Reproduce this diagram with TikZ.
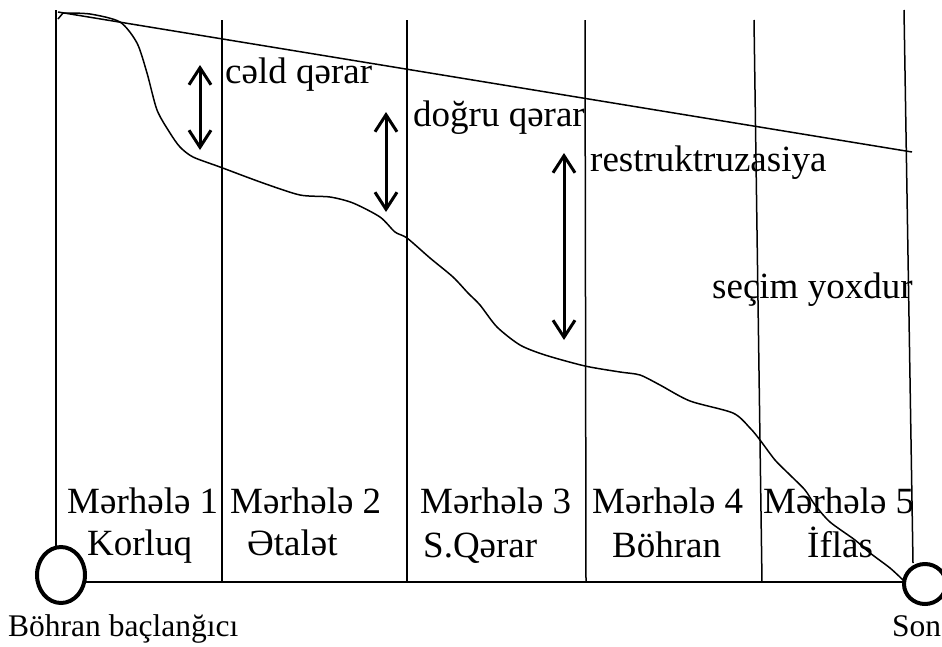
\documentclass[tikz,border=0pt]{standalone}
\usepackage{fontspec}
\setmainfont{Liberation Serif}
\usetikzlibrary{arrows.meta,shapes.geometric}
\begin{document}
\begin{tikzpicture}[x=1pt,y=-1pt,
  font=\fontsize{37}{42}\selectfont,
  thinline/.style={line width=1.5pt},
  dblarrow/.style={line width=3pt,
    {Straight Barb[length=17pt,width=22pt]}-{Straight Barb[length=17pt,width=22pt]}},
  lbl/.style={anchor=base west, inner sep=0pt},
  small/.style={font=\fontsize{31.5}{36}\selectfont},
  ring/.style={ellipse, draw, line width=4pt, inner sep=0pt}]
\useasboundingbox (0,0) rectangle (942,646);

% end circles
\node[ring, minimum width=48pt, minimum height=56pt] (start) at (61,575) {};
\node[ring, minimum width=42pt, minimum height=40pt] (end) at (925,584) {};

% baseline
\coordinate (b0) at (86,582);
\coordinate (b1) at (904,582);
\draw[thinline] (b0) -- (b1);

% vertical stage lines
\coordinate (v1t) at (56,10);  \coordinate (v1b) at (56,547);
\coordinate (v2t) at (222,20); \coordinate (v2b) at (222,582);
\coordinate (v3t) at (407,20); \coordinate (v3b) at (407,582);
\coordinate (v4t) at (585,20); \coordinate (v4b) at (586,582);
\coordinate (v5t) at (754,20); \coordinate (v5b) at (762,582);
\coordinate (v6t) at (904,10); \coordinate (v6b) at (913,563);
\foreach \i in {1,...,6} {\draw[thinline] (v\i t) -- (v\i b);}

% diagonal target line
\coordinate (d0) at (58,12);
\coordinate (d1) at (912,152);
\draw[thinline] (d0) -- (d1);

% actual decline curve
\draw[thinline] (58,19) -- (63,13)
  plot[smooth, tension=0.45] coordinates {(63,13) (90,14) (120,22) (137,43) (147,73) (157,110) (170,133) (180,147) (193,157) (220,167) (263,183) (300,195) (330,197) (353,203) (380,217) (395,232) (407,238) (430,258) (453,277) (468,293) (480,305) (497,327) (520,345) (545,355) (585,366) (620,372) (640,375) (660,385) (690,401) (733,413) (750,428) (760,440) (775,460) (790,475) (805,490) (815,505) (830,522) (855,540) (870,553) (890,568) (903,580)};

% double arrows
\coordinate (a1t) at (200,65);  \coordinate (a1b) at (200,150);
\coordinate (a2t) at (386,112); \coordinate (a2b) at (386,212);
\coordinate (a3t) at (564,153); \coordinate (a3b) at (564,340);
\draw[dblarrow] (a1t) -- (a1b);
\draw[dblarrow] (a2t) -- (a2b);
\draw[dblarrow] (a3t) -- (a3b);

% labels
\node[lbl] (t1) at (225,83) {cəld qərar};
\node[lbl] (t2) at (413,126) {doğru qərar};
\node[lbl] (t3) at (590,171) {restruktruzasiya};
\node[lbl] (t4) at (712,298) {seçim yoxdur};

\node[lbl] (m1) at (67,513) {Mərhələ 1};
\node[lbl] (n1) at (87,555) {Korluq};
\node[lbl] (m2) at (230,513) {Mərhələ 2};
\node[lbl] (n2) at (247,555) {Ətalət};
\node[lbl] (m3) at (420,513) {Mərhələ 3};
\node[lbl] (n3) at (423,557) {S.Qərar};
\node[lbl] (m4) at (592,513) {Mərhələ 4};
\node[lbl] (n4) at (612,557) {Böhran};
\node[lbl] (m5) at (763,513) {Mərhələ 5};
\node[lbl] (n5) at (807,557) {İflas};

\node[lbl, small] (s) at (8,636) {Böhran baçlanğıcı};
\node[lbl, small] (e) at (892,636) {Son};
\end{tikzpicture}
\end{document}
